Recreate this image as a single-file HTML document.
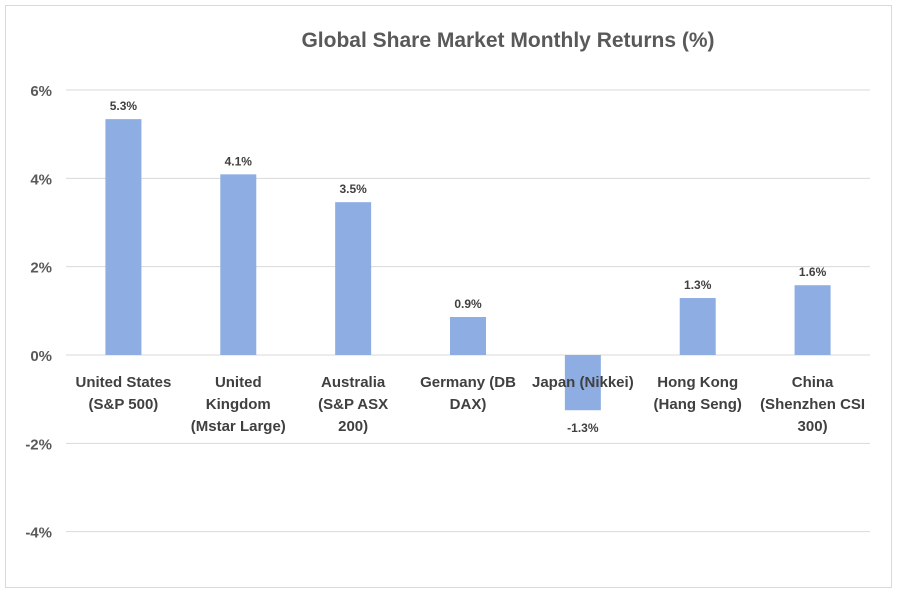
<!DOCTYPE html>
<html><head><meta charset="utf-8"><style>
body{margin:0;background:#fff;}
svg{display:block;font-family:"Liberation Sans",sans-serif;}
</style></head><body>
<svg id="chart" width="898" height="594">
<rect x="5.5" y="5.5" width="886" height="582" fill="#fff" stroke="#d9d9d9"/>
<text x="508" y="47" text-anchor="middle" font-size="21" font-weight="bold" fill="#595959">Global Share Market Monthly Returns (%)</text>
<g id="grid"></g><g id="bars"></g><g id="labels"></g>
</svg>
<script>
const categories=[["United States","(S&P 500)"],["United","Kingdom","(Mstar Large)"],["Australia","(S&P ASX","200)"],["Germany (DB","DAX)"],["Japan (Nikkei)"],["Hong Kong","(Hang Seng)"],["China","(Shenzhen CSI","300)"]];
const values=[5.34,4.09,3.46,0.86,-1.25,1.29,1.58];
const valueLabels=["5.3%","4.1%","3.5%","0.9%","-1.3%","1.3%","1.6%"];
const ticks=[6,4,2,0,-2,-4];
const tickLabels=["6%","4%","2%","0%","-2%","-4%"];
const NS="http://www.w3.org/2000/svg";
const L=66,R=870,y0=355,ppu=44.17;
const y=v=>y0-v*ppu;
const step=(R-L)/categories.length;
const x=i=>L+step*(i+0.5);
function mk(t,a,p){const e=document.createElementNS(NS,t);for(const k in a)e.setAttribute(k,a[k]);p.appendChild(e);return e;}
const grid=document.getElementById('grid'),bars=document.getElementById('bars'),labels=document.getElementById('labels');
ticks.forEach((t,i)=>{
 const ln=mk('line',{x1:L,x2:R,y1:y(t),y2:y(t),stroke:'#d9d9d9','stroke-width':1},grid);
 
 
 const tx=mk('text',{x:52,y:y(t)+6,'text-anchor':'end','font-size':15,'font-weight':'bold',fill:'#595959'},grid);
 tx.textContent=tickLabels[i];
 
 
});
values.forEach((v,i)=>{
 const top=Math.min(y(v),y0),h=Math.abs(y(v)-y0);
 const b=mk('rect',{x:x(i)-18,y:top,width:36,height:h,fill:'#8eaee3'},bars);
 
 
 const ly=v>=0?y(v)-9:y(v)+22;
 const t=mk('text',{x:x(i),y:ly,'text-anchor':'middle','font-size':12,'font-weight':'bold',fill:'#404040'},labels);
 t.textContent=valueLabels[i];
 
 
 categories[i].forEach((line,j)=>{
  const c=mk('text',{x:x(i),y:387+j*22,'text-anchor':'middle','font-size':15,'font-weight':'bold',fill:'#404040'},labels);
  c.textContent=line;
  
  
 });
});
</script>
</body></html>
